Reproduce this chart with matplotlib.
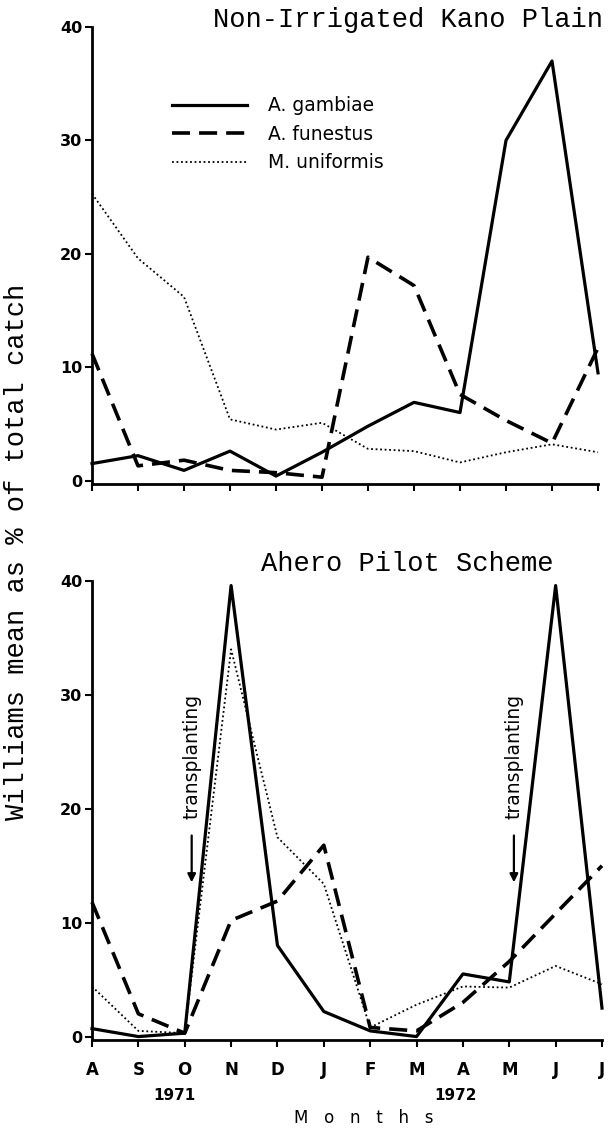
import matplotlib
matplotlib.use("Agg")
import matplotlib.pyplot as plt

months = ["A", "S", "O", "N", "D", "J", "F", "M", "A", "M", "J", "J"]
years = ["1971", "1972"]

# Non-Irrigated Kano Plain
kano_gambiae = [1.5, 2.2, 0.9, 2.6, 0.4, 2.5, 4.8, 6.9, 6.0, 30.0, 37.0, 9.5]
kano_funestus = [11.2, 1.3, 1.8, 0.9, 0.7, 0.3, 19.7, 17.2, 7.6, 5.3, 3.3, 11.7]
kano_uniformis = [25.3, 19.6, 16.2, 5.4, 4.5, 5.1, 2.8, 2.6, 1.6, 2.5, 3.2, 2.5]

# Ahero Pilot Scheme
ahero_gambiae = [0.7, 0.0, 0.3, 39.6, 8.0, 2.2, 0.5, 0.0, 5.5, 4.8, 39.6, 2.5]
ahero_funestus = [11.8, 2.0, 0.3, 10.2, 11.9, 16.8, 0.8, 0.5, 3.0, 6.6, 10.8, 15.0]
ahero_uniformis = [4.4, 0.5, 0.3, 34.0, 17.5, 13.4, 0.8, 2.8, 4.4, 4.3, 6.2, 4.6]

legend_labels = ["A. gambiae", "A. funestus", "M. uniformis"]
transplant_x = [2.15, 9.1]

W, H = 610, 1133
fig = plt.figure(figsize=(W / 100, H / 100), dpi=100)
mono = "Liberation Mono"

def ax_rect(l, r, top, bot):
    return [l / W, 1 - bot / H, (r - l) / W, (bot - top) / H]

ax1 = fig.add_axes(ax_rect(92, 598, 27, 484))
ax2 = fig.add_axes(ax_rect(92, 602, 581, 1040))

styles = [
    dict(color="black", lw=2.3, ls="-"),
    dict(color="black", lw=2.6, ls=(0, (5, 2.5))),
    dict(color="black", lw=1.3, ls=(0, (1, 1.5))),
]

x = list(range(len(months)))
for ax, series in [(ax1, [kano_gambiae, kano_funestus, kano_uniformis]),
                   (ax2, [ahero_gambiae, ahero_funestus, ahero_uniformis])]:
    for s, st, lab in zip(series, styles, legend_labels):
        ax.plot(x, s, label=lab, clip_on=False, **st)
    ax.set_xlim(0, 11)
    ax.set_ylim(-0.3, 40)
    ax.set_yticks([0, 10, 20, 30, 40])
    ax.set_xticks(x)
    for sp in ["top", "right"]:
        ax.spines[sp].set_visible(False)
    for sp in ["left", "bottom"]:
        ax.spines[sp].set_linewidth(2.0)
    ax.tick_params(axis="both", direction="out", length=5, width=1.5,
                   labelsize=11.5, pad=2)
    for t in ax.get_yticklabels():
        t.set_fontweight("bold")
    ax.patch.set_alpha(0)

ax1.set_xticklabels([])
ax2.set_xticklabels(months, fontsize=12, fontweight="bold")
ax2.tick_params(axis="x", pad=10)

leg = ax1.legend(loc="upper left", bbox_to_anchor=(0.125, 0.885), frameon=False,
                 fontsize=13.5, handlelength=4.0, handletextpad=1.1,
                 labelspacing=0.5)

for tx in transplant_x:
    ax2.annotate("", xy=(tx, 13.3), xytext=(tx, 17.9),
                 arrowprops=dict(arrowstyle="-|>", color="black", lw=1.6,
                                 mutation_scale=12))
    ax2.text(tx, 24.6, "transplanting", rotation=90, ha="center", va="center",
             fontsize=13.5)

fig.text(408 / W, 1 - 20 / H, "Non-Irrigated Kano Plain", family=mono,
         fontsize=19.5, ha="center", va="center")
fig.text(407 / W, 1 - 564 / H, "Ahero Pilot Scheme", family=mono,
         fontsize=19.5, ha="center", va="center")
fig.text(17 / W, 1 - 552 / H, "Williams mean as % of total catch", family=mono,
         fontsize=19.5, rotation=90, ha="center", va="center")

fig.text(174 / W, 1 - 1095 / H, years[0], fontsize=11, fontweight="bold",
         ha="center", va="center")
fig.text(456 / W, 1 - 1095 / H, years[1], fontsize=11, fontweight="bold",
         ha="center", va="center")
fig.text(364 / W, 1 - 1118 / H, "M   o   n   t   h   s", fontsize=12,
         ha="center", va="center")

fig.savefig("out.png", dpi=100)
